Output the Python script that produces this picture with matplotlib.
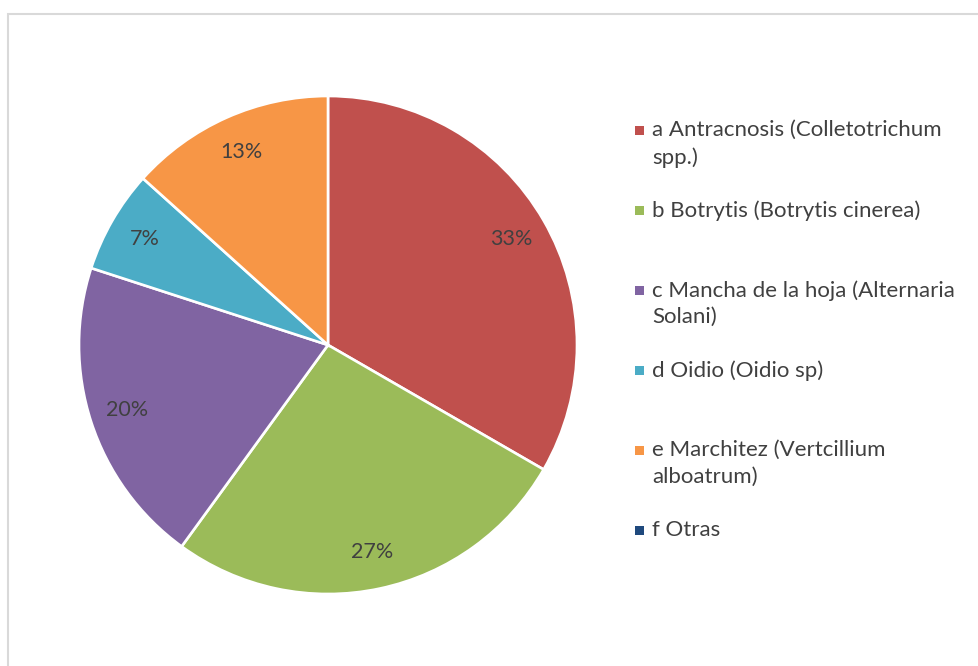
import matplotlib.pyplot as plt
from matplotlib.patches import Rectangle

plt.rcParams['font.family'] = ['Lato', 'DejaVu Sans']

# disease counts (share of cases)
labels = [
    "a Antracnosis (Colletotrichum\nspp.)",
    "b Botrytis (Botrytis cinerea)",
    "c Mancha de la hoja (Alternaria\nSolani)",
    "d Oidio (Oidio sp)",
    "e Marchitez (Vertcillium\nalboatrum)",
    "f Otras",
]
counts = [5, 4, 3, 1, 2, 0]
colors = ["#C0504D", "#9BBB59", "#8064A2", "#4BACC6", "#F79646", "#1F497D"]

W, H = 979, 666
fig = plt.figure(figsize=(W / 100, H / 100), dpi=100)

# light frame around the chart area
fig.add_artist(Rectangle((8.5 / W, -0.1), 1.2, (H - 13.5) / H + 0.1,
                         transform=fig.transFigure, fill=False,
                         edgecolor="#D9D9D9", linewidth=1.5))

cx, cy, r = 328, 345, 249
ax = fig.add_axes([(cx - r) / W, (H - cy - r) / H, 2 * r / W, 2 * r / H])

nz = [(c, col) for c, col in zip(counts, colors) if c > 0]
wedges, texts, autotexts = ax.pie(
    [c for c, _ in nz], colors=[col for _, col in nz],
    startangle=90, counterclock=False, radius=1,
    autopct=lambda p: f"{p:.0f}%", pctdistance=0.85,
    wedgeprops=dict(edgecolor="white", linewidth=1.9),
    textprops=dict(color="#404040", fontsize=15.5),
)
ax.set_xlim(-1, 1)
ax.set_ylim(-1, 1)
ax.set_aspect("equal")
ax.axis("off")

# legend drawn by hand, one entry every 80 px
y0 = 130
for i, (lab, col) in enumerate(zip(labels, colors)):
    y = y0 + 80 * i
    fig.add_artist(Rectangle((635 / W, (H - y - 4.5) / H), 9 / W, 9 / H,
                             transform=fig.transFigure, facecolor=col,
                             edgecolor="none"))
    fig.text(652 / W, (H - y + 10) / H, lab, ha="left", va="top",
             fontsize=16, color="#404040", linespacing=1.42)

fig.savefig("out.png", dpi=100)
